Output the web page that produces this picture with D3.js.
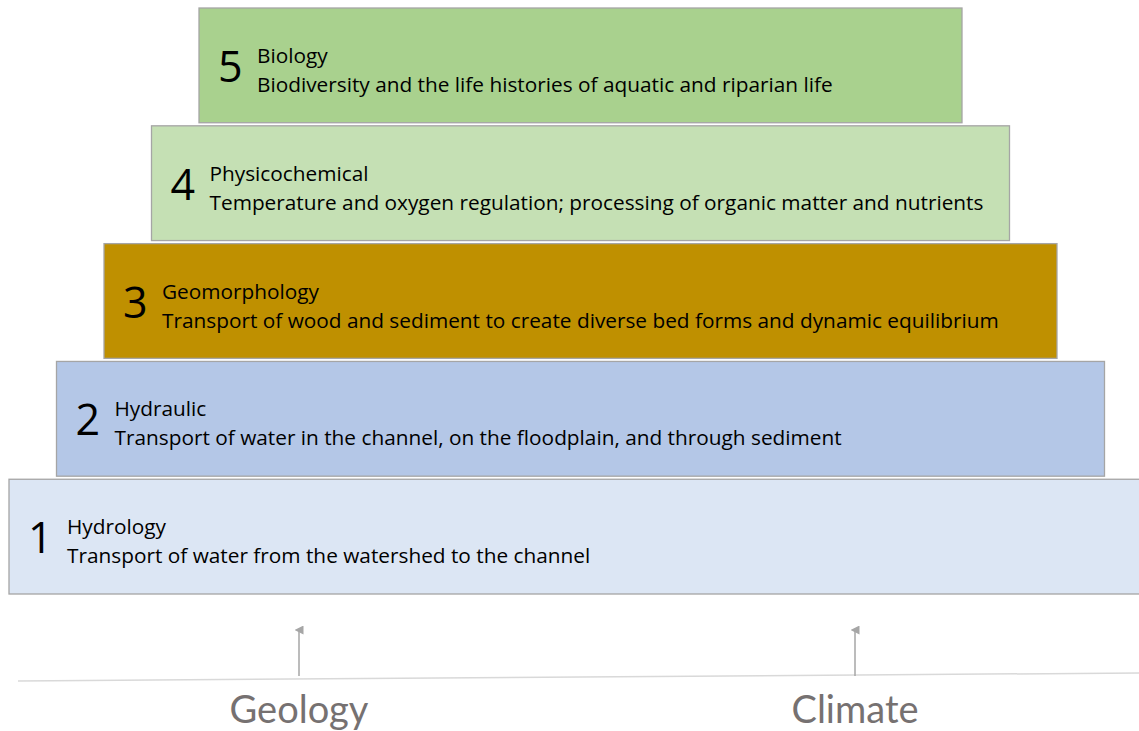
<!DOCTYPE html>
<html lang="en">
<head>
  <meta charset="UTF-8">
  <title>River function pyramid</title>
  <style>
    body { margin: 0; background: #fff; }
    svg { display: block; font-family: "Open Sans", sans-serif; }
  </style>
</head>
<body>
  <div id="chart"></div>
  <script src="https://d3js.org/d3.v7.min.js"></script>
  <script>
    const width = 1139, height = 731;

    // pyramid levels, bottom (1) to top (5)
    const levels = [1, 2, 3, 4, 5];
    const titles = ["Hydrology", "Hydraulic", "Geomorphology", "Physicochemical", "Biology"];
    const descriptions = [
      "Transport of water from the watershed to the channel",
      "Transport of water in the channel, on the floodplain, and through sediment",
      "Transport of wood and sediment to create diverse bed forms and dynamic equilibrium",
      "Temperature and oxygen regulation; processing of organic matter and nutrients",
      "Biodiversity and the life histories of aquatic and riparian life"
    ];
    const fills = ["#dce6f4", "#b4c7e7", "#bf9000", "#c5e0b4", "#a9d18e"];

    // drivers under the pyramid
    const drivers = ["Geology", "Climate"];

    const svg = d3.select("#chart").append("svg")
      .attr("width", width).attr("height", height);

    // y: level 5 at top
    const y = d3.scaleBand()
      .domain(levels.slice().reverse())
      .range([8, 594])
      .paddingInner(0.026);

    // left inset grows with level, boxes centred
    const left = d3.scaleLinear().domain([1, 5]).range([9, 199]);
    const cx = 580.5;

    const g = svg.selectAll("g.level")
      .data(levels)
      .enter().append("g")
      .attr("class", "level")
      .attr("transform", d => `translate(${left(d)},${y(d)})`);

    g.append("rect")
      .attr("width", d => 2 * (cx - left(d)))
      .attr("height", y.bandwidth())
      .attr("fill", (d, i) => fills[i])
      .attr("stroke", "#a5a5a5")
      .attr("stroke-width", 1.3);

    g.append("text")
      .attr("x", 19)
      .attr("y", 74)
      .attr("font-size", 43)
      .attr("fill", "#000")
      .text(d => d);

    g.append("text")
      .attr("x", 58)
      .attr("y", 55)
      .attr("font-size", 20.8)
      .attr("fill", "#000")
      .text((d, i) => titles[i]);

    g.append("text")
      .attr("x", 58)
      .attr("y", 84)
      .attr("font-size", 20.8)
      .attr("fill", "#000")
      .text((d, i) => descriptions[i]);

    // ground line
    svg.append("line")
      .attr("x1", 18).attr("y1", 681)
      .attr("x2", width).attr("y2", 673)
      .attr("stroke", "#d9d9d9")
      .attr("stroke-width", 1.5);

    const xd = d3.scalePoint().domain(drivers).range([299, 855]);

    svg.append("defs").append("marker")
      .attr("id", "head")
      .attr("viewBox", "0 0 10 10")
      .attr("refX", 5).attr("refY", 5)
      .attr("markerWidth", 6).attr("markerHeight", 6)
      .attr("orient", "auto")
      .append("path")
      .attr("d", "M0,10 L5,0 L10,10 Z")
      .attr("fill", "#a6a6a6");

    svg.selectAll("line.arrow")
      .data(drivers)
      .enter().append("line")
      .attr("class", "arrow")
      .attr("x1", d => xd(d)).attr("x2", d => xd(d))
      .attr("y1", 676).attr("y2", 630)
      .attr("stroke", "#a6a6a6")
      .attr("stroke-width", 1.5)
      .attr("marker-end", "url(#head)");

    svg.selectAll("text.driver")
      .data(drivers)
      .enter().append("text")
      .attr("class", "driver")
      .attr("x", d => xd(d))
      .attr("y", 723)
      .attr("text-anchor", "middle")
      .attr("font-family", "Lato, 'Open Sans', sans-serif")
      .attr("font-size", 38)
      .attr("fill", "#767171")
      .text(d => d);
  </script>
</body>
</html>
